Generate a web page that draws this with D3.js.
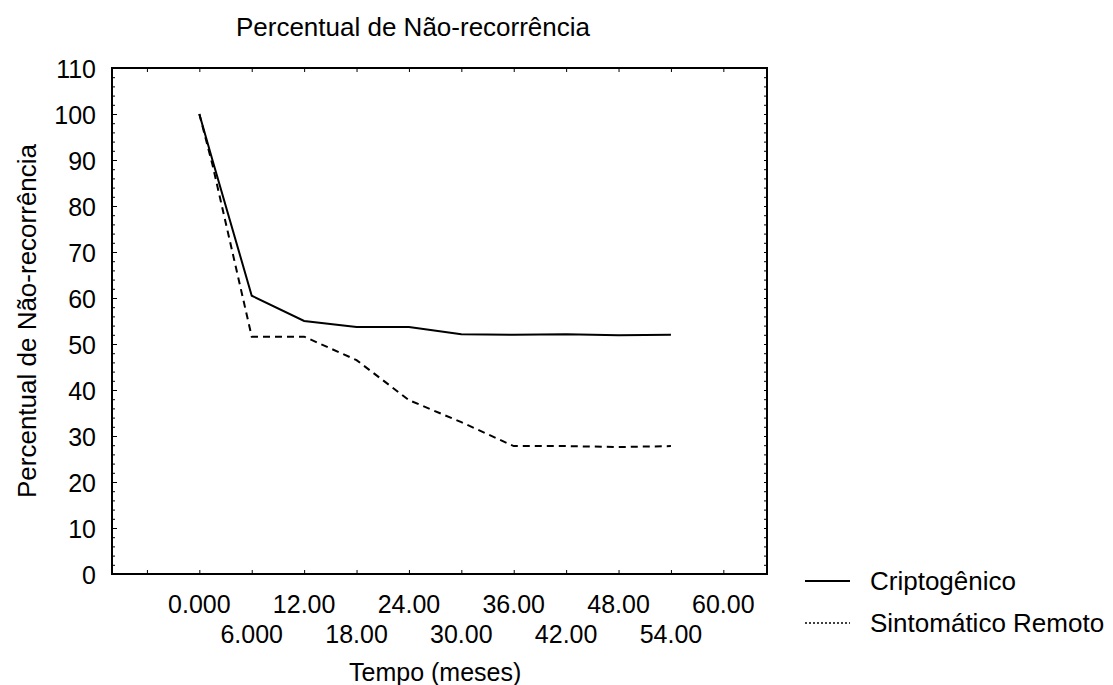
<!DOCTYPE html>
<html>
<head>
<meta charset="utf-8">
<script src="https://cdn.jsdelivr.net/npm/d3@7"></script>
<style>
body { margin: 0; background: #fff; }
text { font-family: "Liberation Sans", Arial, sans-serif; fill: #000; }
.line { fill: none; stroke: #000; stroke-width: 2px; }
.frame { fill: none; stroke: #000; stroke-width: 2px; }
</style>
</head>
<body>
<script>
// Daten
var tempo = [0, 1.5, 6, 12, 18, 24, 30, 36, 42, 48, 54];
var criptogenico = [100, 90, 60.5, 55.0, 53.7, 53.7, 52.1, 52.0, 52.1, 51.9, 52.0];
var sintomatico = [100, 89, 51.6, 51.6, 46.5, 37.8, 33.0, 27.8, 27.8, 27.6, 27.8];
var xTicks = [-6, 0, 6, 12, 18, 24, 30, 36, 42, 48, 54, 60];
var xLabels = [0, 6, 12, 18, 24, 30, 36, 42, 48, 54, 60];
var yLabels = [0, 10, 20, 30, 40, 50, 60, 70, 80, 90, 100, 110];
var seriesNames = ["Criptogênico", "Sintomático Remoto"];

var width = 1113, height = 685;
var margin = {top: 68, right: 346, bottom: 111, left: 112}; // Rand
var w = width - margin.left - margin.right
, h = height - margin.top - margin.bottom;

var svg = d3.select("body").append("svg")
.attr("width", width)
.attr("height", height);

var g = svg.append("g")
.attr("transform", "translate(" + margin.left + "," + margin.top + ")");

//Skalen
var xScale = d3.scaleLinear().domain([-10, 65]).range([0, w]);
var yScale = d3.scaleLinear().domain([0, 110]).range([h, 0]);

var fmt = function (d) { return d < 10 ? d.toFixed(3) : d.toFixed(2); };

// Y Achse links (Ticks nach innen)
g.append("g")
.call(d3.axisLeft(yScale).tickValues(yLabels).tickSize(-5).tickPadding(16).tickFormat(d3.format("d")))
.call(function (a) { a.select(".domain").remove(); })
.selectAll("text").attr("font-size", 25).attr("dy", "0.36em");

// kleine Ticks links und rechts
var minor = d3.range(0, 111, 2);
g.append("g")
.call(d3.axisLeft(yScale).tickValues(minor).tickSize(-3).tickFormat(""))
.call(function (a) { a.select(".domain").remove(); });
g.append("g")
.attr("transform", "translate(" + w + ",0)")
.call(d3.axisRight(yScale).tickValues(minor).tickSize(-3).tickFormat(""))
.call(function (a) { a.select(".domain").remove(); });

// X Achse unten und oben
g.append("g")
.attr("transform", "translate(0," + h + ")")
.call(d3.axisBottom(xScale).tickValues(xTicks).tickSize(-4).tickFormat(""))
.call(function (a) { a.select(".domain").remove(); });
g.append("g")
.call(d3.axisTop(xScale).tickValues(xTicks).tickSize(-4).tickFormat(""))
.call(function (a) { a.select(".domain").remove(); });

// X Beschriftung in zwei Reihen
g.selectAll(".xlab")
.data(xLabels)
.enter().append("text")
.attr("class", "xlab")
.attr("x", function (d) { return xScale(d); })
.attr("y", function (d, i) { return i % 2 === 0 ? h + 39 : h + 69; })
.attr("text-anchor", "middle")
.attr("font-size", 25)
.text(fmt);

// Rahmen
g.append("rect")
.attr("class", "frame")
.attr("width", w)
.attr("height", h);

// Linien
var line = d3.line()
.x(function (d, i) { return xScale(tempo[i]); })
.y(function (d) { return yScale(d); });

g.append("path")
.datum(criptogenico)
.classed("line", true)
.attr("d", line);

g.append("path")
.datum(sintomatico)
.classed("line", true)
.attr("stroke-dasharray", "7,5")
.attr("d", line);

// Titel und Achsentitel
svg.append("text")
.attr("x", 413)
.attr("y", 36)
.attr("text-anchor", "middle")
.attr("font-size", 26)
.text("Percentual de Não-recorrência");

svg.append("text")
.attr("transform", "translate(36," + (margin.top + h / 2) + ") rotate(-90)")
.attr("text-anchor", "middle")
.attr("font-size", 26)
.text("Percentual de Não-recorrência");

svg.append("text")
.attr("x", margin.left + xScale(27))
.attr("y", 681)
.attr("text-anchor", "middle")
.attr("font-size", 25)
.text("Tempo (meses)");

// Legende
var legend = svg.selectAll(".legend")
.data(seriesNames)
.enter().append("g")
.attr("class", "legend")
.attr("transform", function (d, i) { return "translate(805," + (581 + i * 42) + ")"; });

legend.append("line")
.attr("x1", 0).attr("x2", 45)
.attr("stroke", "#000")
.attr("stroke-width", function (d, i) { return i === 0 ? 2 : 1.5; })
.attr("stroke-dasharray", function (d, i) { return i === 0 ? null : "2,2"; });

legend.append("text")
.attr("x", 65)
.attr("dy", "0.36em")
.attr("font-size", 26)
.text(function (d) { return d; });
</script>
</body>
</html>
